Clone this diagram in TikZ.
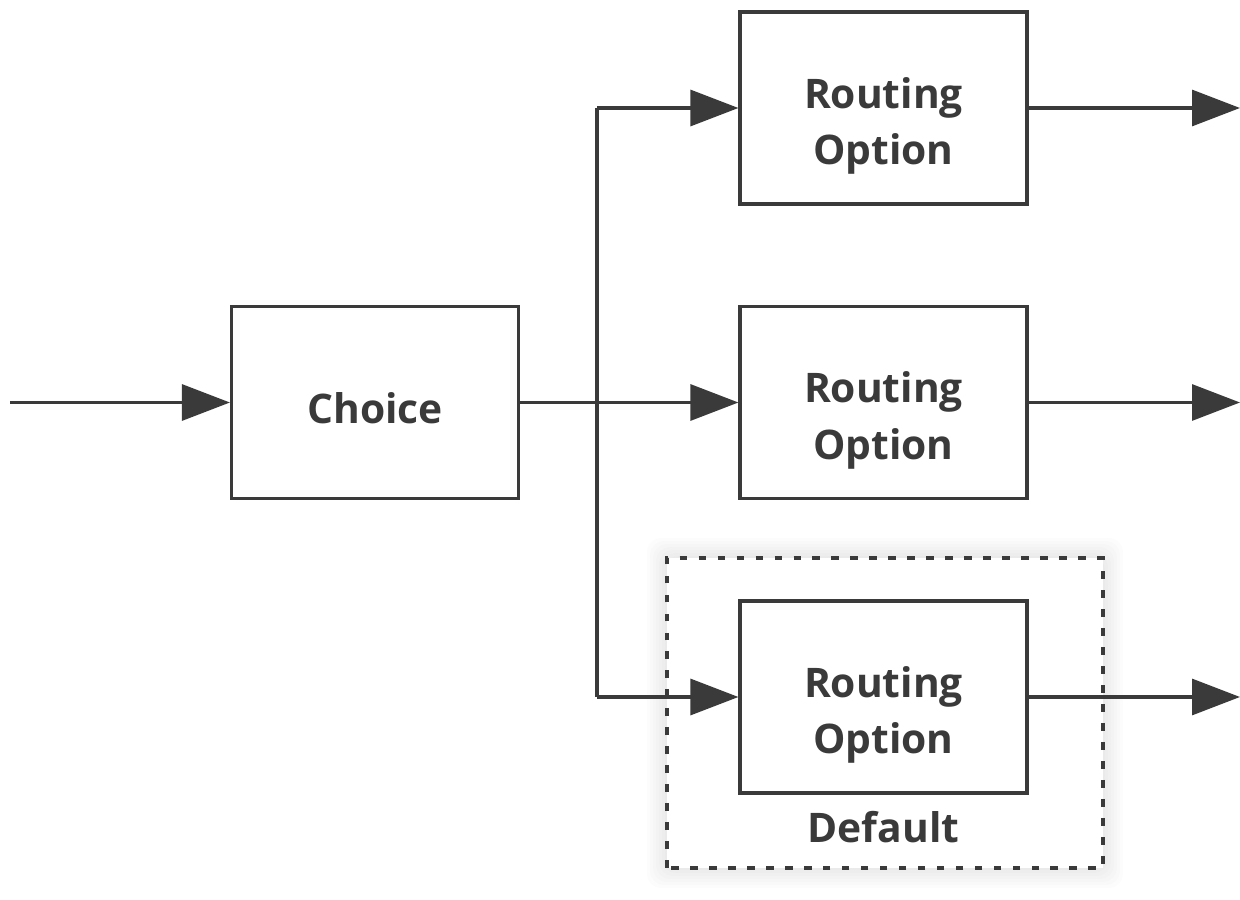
\documentclass[tikz,border=0pt]{standalone}
\usepackage{fontspec}
\setmainfont{Open Sans}
\usetikzlibrary{arrows.meta,positioning}
\definecolor{ink}{HTML}{3A3A3A}
\tikzset{
    block/.style={draw=ink, line width=0.9pt, minimum width=2.87cm, minimum height=1.92cm},
    word/.style={align=center, text=ink, font=\fontsize{11.6}{16}\selectfont\bfseries},
    flow/.style={draw=ink, line width=0.9pt, -{Triangle[length=4.8mm,width=3.6mm]}},
}
\begin{document}
\begin{tikzpicture}
            \useasboundingbox (0,0) rectangle (12.4,9);

            % soft glow round the default group
            \foreach \g in {0.02,0.05,...,0.2}
                \fill[black, opacity=0.012, rounded corners=4pt] (6.67-\g,0.32-\g) rectangle (11.03+\g,3.42+\g);
            \fill[white] (6.67,0.32) rectangle (11.03,3.42);
            \draw[ink, line width=1.1pt, dash pattern=on 2.2pt off 3.2pt] (6.67,0.32) rectangle (11.03,3.42);

            \node[block, label={[word, yshift=-0.6mm]center:Choice}] (choice) at (3.75,4.975) {};
            \node[block, label={[word, yshift=-1.8mm]center:Routing\\Option}] (route1) at (8.835,7.92) {};
            \node[block, label={[word, yshift=-1.8mm]center:Routing\\Option}] (route2) at (8.835,4.975) {};
            \node[block, label={[word, yshift=-1.8mm]center:Routing\\Option}] (route3) at (8.835,2.03) {};
            \node[word, below=0.04cm of route3] (default) {Default};

            \coordinate (start) at (0.1,4.975);
            \coordinate (split) at (5.97,4.975);
            \coordinate (out1) at (12.4,7.92);
            \coordinate (out2) at (12.4,4.975);
            \coordinate (out3) at (12.4,2.03);

            \draw[flow] (start) -- (choice.west);
            \draw[flow] (choice.east) -- (route2.west);
            \draw[flow] (split |- route1.west) -- (route1.west);
            \draw[flow] (split |- route3.west) -- (route3.west);
            \draw[ink, line width=0.9pt] (split |- route1.west) -- (split |- route3.west);

            \draw[flow] (route1.east) -- (out1);
            \draw[flow] (route2.east) -- (out2);
            \draw[flow] (route3.east) -- (out3);
        \end{tikzpicture}
\end{document}
